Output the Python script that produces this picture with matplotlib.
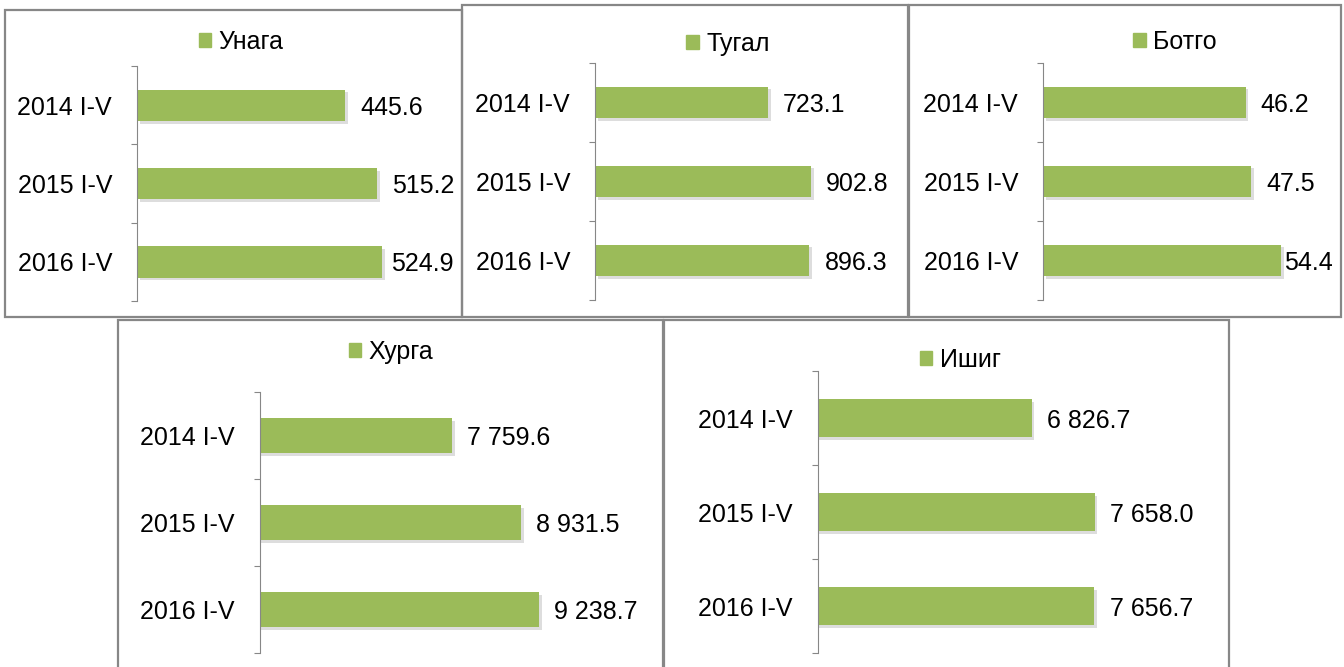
import matplotlib
matplotlib.use('Agg')
import matplotlib.pyplot as plt
import matplotlib.patheffects as pe
from matplotlib.patches import Rectangle, Patch

plt.rcParams['font.family'] = ['Liberation Sans', 'DejaVu Sans']

# data
categories = ['2014 I-V', '2015 I-V', '2016 I-V']
names = ['Унага', 'Тугал', 'Ботго', 'Хурга', 'Ишиг']
unaga = [445.6, 515.2, 524.9]
tugal = [723.1, 902.8, 896.3]
botgo = [46.2, 47.5, 54.4]
hurga = [7759.6, 8931.5, 9238.7]
ishig = [6826.7, 7658.0, 7656.7]
series = [unaga, tugal, botgo, hurga, ishig]

W, H = 1344, 667
GREEN = '#9BBB59'
GRAY = '#878787'

# layout in pixels (from top-left)
frames = [(5, 10, 462, 317), (462, 5, 908, 317), (909, 5, 1341, 317),
          (118, 320, 663, 690), (664, 320, 1229, 690)]
axes_px = [(137, 66, 280, 235), (595, 63, 239, 237), (1043, 63, 263, 237),
           (260, 392, 324, 261), (818, 371, 378, 282)]
xlims = [(0, 600), (0, 1000), (0, 60), (4500, 10000), (4000, 9000)]
legend_pos = [(241, 42), (728, 44), (1175, 42), (391, 352), (960, 360)]


def fx(x):
    return x / W


def fy(y):
    return 1 - y / H


def fmt(v):
    return '{:,.1f}'.format(v).replace(',', ' ')


fig = plt.figure(figsize=(W / 100, H / 100), dpi=100)

for x0, y0, x1, y1 in frames:
    fig.patches.append(Rectangle((fx(x0), fy(y1)), fx(x1 - x0), (y1 - y0) / H,
                                 transform=fig.transFigure, fill=False,
                                 edgecolor=GRAY, lw=1.6, zorder=0))

shadow = [pe.SimplePatchShadow(offset=(2, -2), shadow_rgbFace='#909090', alpha=0.3),
          pe.Normal()]

fig.canvas.draw()
renderer = fig.canvas.get_renderer()

for i, vals in enumerate(series):
    x, y, w, h = axes_px[i]
    ax = fig.add_axes([fx(x), fy(y + h), fx(w), h / H])
    ax.patch.set_alpha(0)
    ypos = list(range(len(categories)))
    bars = ax.barh(ypos, vals, height=0.4, color=GREEN, zorder=2)
    for b in bars:
        b.set_path_effects(shadow)
    ax.set_xlim(*xlims[i])
    ax.set_ylim(2.5, -0.5)
    ax.set_yticks(ypos)
    ax.set_yticklabels(categories, fontsize=18, va='center_baseline')
    ax.set_yticks([-0.5, 0.5, 1.5, 2.5], minor=True)
    ax.tick_params(axis='y', which='major', length=0, pad=18)
    ax.tick_params(axis='y', which='minor', length=4.5, color=GRAY, width=0.8)
    ax.set_xticks([])
    for s in ['top', 'right', 'bottom']:
        ax.spines[s].set_visible(False)
    ax.spines['left'].set_color(GRAY)
    ax.spines['left'].set_linewidth(0.8)

    # value labels, kept inside the panel frame
    frame_right = frames[i][2]
    for yy, v in zip(ypos, vals):
        t = ax.annotate(fmt(v), (v, yy), xytext=(11, 0), textcoords='offset points',
                        va='center_baseline', ha='left', fontsize=18,
                        annotation_clip=False)
        ext = t.get_window_extent(renderer)
        limit = frame_right - 8
        if ext.x1 > limit:
            t.set_position((11 - (ext.x1 - limit) * 72 / 100, 0))

    lx, ly = legend_pos[i]
    ax.legend([Patch(color=GREEN)], [names[i]], loc='center',
              bbox_to_anchor=(fx(lx), fy(ly)), bbox_transform=fig.transFigure,
              frameon=False, fontsize=18, handlelength=0.5, handleheight=0.5,
              handletextpad=0.3, borderpad=0, borderaxespad=0)

fig.savefig('out.png', dpi=100)
